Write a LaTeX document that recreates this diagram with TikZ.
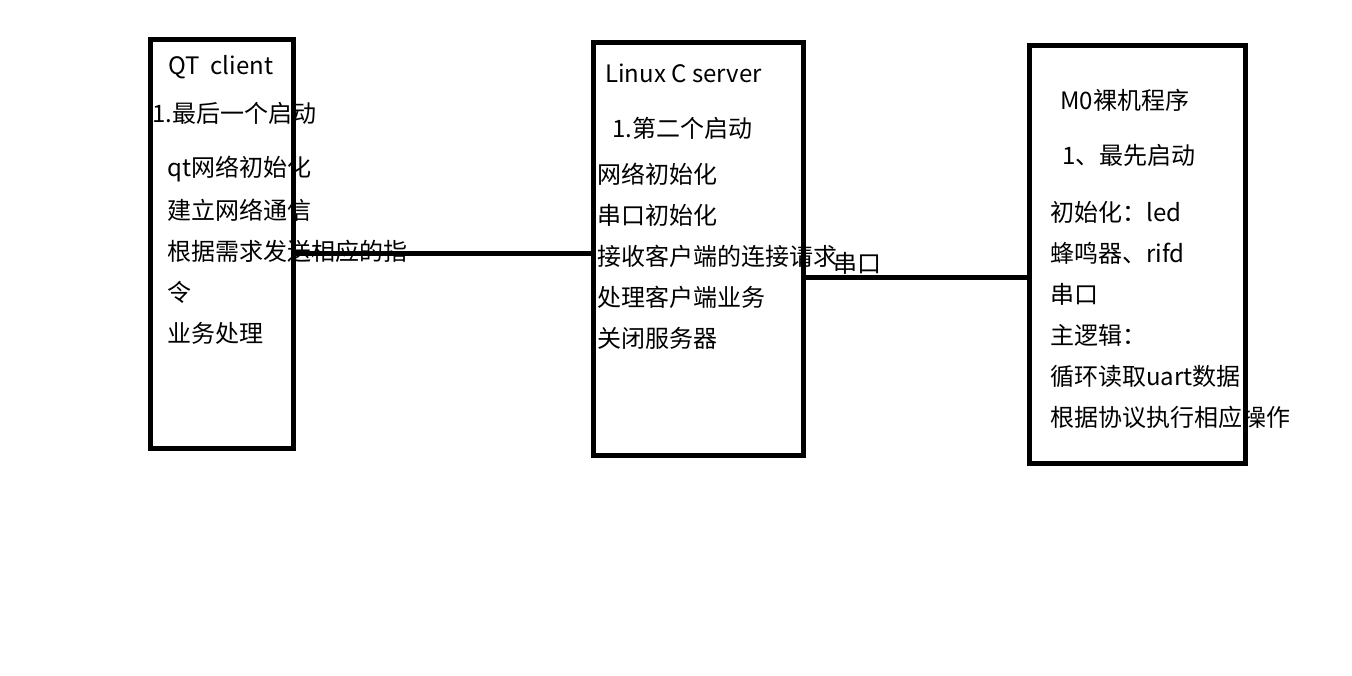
\documentclass[tikz,border=0pt]{standalone}
\usepackage{fontspec}
\setmainfont{Noto Sans CJK SC}
\begin{document}
\begin{tikzpicture}[x=0.75pt,y=-0.75pt,
  box/.style={draw,line width=3.75pt,anchor=north west,inner sep=0pt},
  txt/.style={anchor=west,inner sep=0pt,font=\fontsize{18pt}{20pt}\selectfont},
  link/.style={line width=3.75pt}]
\useasboundingbox (0,0) rectangle (1352,675);
% boxes
\node[box,minimum width=107.25pt,minimum height=306.75pt] (qt) at (148,37){};
\node[box,minimum width=157.5pt,minimum height=309.75pt] (srv) at (591,40){};
\node[box,minimum width=162pt,minimum height=313.5pt] (mo) at (1027,43){};
% QT client
\node[txt] (qt0) at (168,67){QT~~client};
\node[txt] (qt1) at (152,113){1.最后一个启动};
\node[txt] (qt2) at (167,169){qt网络初始化};
\node[txt] (qt3) at (167,210){建立网络通信};
\node[txt] (qt4) at (167,251){根据需求发送相应的指};
\node[txt] (qt5) at (167,292){令};
\node[txt] (qt6) at (167,333){业务处理};
% Linux C server
\node[txt] (srv0) at (605,73){Linux C server};
\node[txt] (srv1) at (612,128){1.第二个启动};
\node[txt] (srv2) at (597,174){网络初始化};
\node[txt] (srv3) at (597,215){串口初始化};
\node[txt] (srv4) at (597,256){接收客户端的连接请求};
\node[txt] (srv5) at (597,297){处理客户端业务};
\node[txt] (srv6) at (597,338){关闭服务器};
% M0
\node[txt] (mo0) at (1060,100){M0裸机程序};
\node[txt] (mo1) at (1062,155){1、最先启动};
\node[txt] (mo2) at (1050,212){初始化：led};
\node[txt] (mo3) at (1050,253){蜂鸣器、rifd};
\node[txt] (mo4) at (1050,294){串口};
\node[txt] (mo5) at (1050,335){主逻辑：};
\node[txt] (mo6) at (1050,376){循环读取uart数据};
\node[txt] (mo7) at (1050,417){根据协议执行相应操作};
% links
\coordinate (lk1) at (0,253);
\coordinate (lk2) at (0,277);
\draw[link] (qt.east |- lk1) -- (srv.west |- lk1);
\draw[link] (srv.east |- lk2) -- (mo.west |- lk2);
\node[txt] (uart) at (833,263){串口};
\end{tikzpicture}
\end{document}
